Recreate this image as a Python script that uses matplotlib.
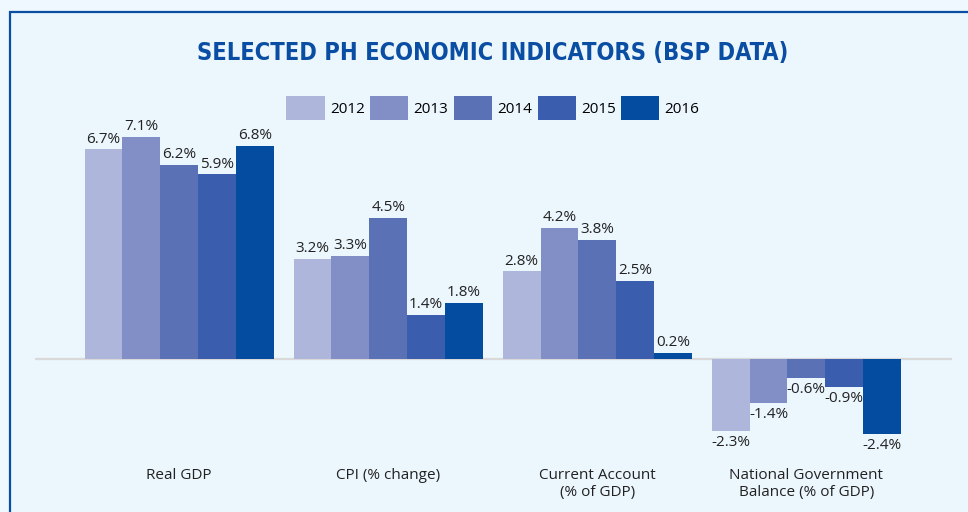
import numpy as np
import matplotlib.pyplot as plt
from matplotlib import font_manager
from matplotlib.patches import Rectangle, Patch

categories = ["Real GDP", "CPI (% change)", "Current Account\n(% of GDP)",
              "National Government\nBalance (% of GDP)"]
years = ["2012", "2013", "2014", "2015", "2016"]
values = {
    "2012": [6.7, 3.2, 2.8, -2.3],
    "2013": [7.1, 3.3, 4.2, -1.4],
    "2014": [6.2, 4.5, 3.8, -0.6],
    "2015": [5.9, 1.4, 2.5, -0.9],
    "2016": [6.8, 1.8, 0.2, -2.4],
}
colors = ["#aeb6dc", "#828fc6", "#5a72b5", "#3a5ead", "#044ca0"]

W, H = 968, 512
fig = plt.figure(figsize=(W / 100, H / 100), dpi=100)
fig.patch.set_facecolor("#f0f8ff")

# inner panel with blue border (runs off right/bottom edges)
fig.patches.append(Rectangle((10 / W, -0.1), 1.2, 1.1 - 12 / H, transform=fig.transFigure,
                             facecolor="#ebf6fd", edgecolor="#0a4ea3", lw=1.6, zorder=-5))

ax = fig.add_axes([35 / W, 1 - 450 / H, (952 - 35) / W, 325 / H])
ax.set_facecolor("none")
ax.set_zorder(2)

x = np.arange(len(categories))
bw = 0.181
for i, yr in enumerate(years):
    xs = x + (i - 2) * bw
    ax.bar(xs, values[yr], width=bw, color=colors[i], label=yr, zorder=2)
    for xx, v in zip(xs, values[yr]):
        if v >= 0:
            ax.annotate(f"{v:.1f}%", (xx, v), xytext=(0, 2), textcoords="offset points",
                        ha="center", va="bottom", fontsize=11, color="#222222",
                        family="Open Sans")
        else:
            ax.annotate(f"{v:.1f}%", (xx, v), xytext=(0, -3), textcoords="offset points",
                        ha="center", va="top", fontsize=11, color="#222222",
                        family="Open Sans")

ax.axhline(0, color="#d9d9d9", lw=1.6, zorder=1)
ax.set_xlim(-0.69, 3.0 + (952 - 806.5) / 208.7)
ax.set_ylim(-91 / 31.3, 234 / 31.3)
ax.set_xticks(x)
ax.set_xticklabels(categories, fontsize=11, color="#222222", family="Open Sans",
                   linespacing=1.2)
ax.tick_params(axis="x", length=0, pad=13)
ax.set_yticks([])
for s in ax.spines.values():
    s.set_visible(False)

# title in a narrow font if one is installed, sized to the reference width
names = {f.name for f in font_manager.fontManager.ttflist}
tfam, tstretch = "DejaVu Sans", "condensed"
for cand in ["Liberation Sans Narrow", "DejaVu Sans Condensed"]:
    if cand in names:
        tfam = cand
        break
title = fig.text(493 / W, 1 - 53 / H, "SELECTED PH ECONOMIC INDICATORS (BSP DATA)",
                 ha="center", va="center", fontsize=26, fontweight="bold",
                 family=tfam, stretch=tstretch, color="#0a4ea3")
r = fig.canvas.get_renderer()
tw = title.get_window_extent(r).width
title.set_fontsize(min(26, 26 * 592 / tw))

handles = [Patch(facecolor=c, label=y) for c, y in zip(colors, years)]
fig.legend(handles=handles, loc="center", bbox_to_anchor=(493 / W, 1 - 108 / H),
           ncol=5, frameon=False, handlelength=2.5, handleheight=2.0,
           handletextpad=0.35, columnspacing=0.35, borderpad=0,
           prop={"family": "Open Sans", "size": 11})

fig.savefig("out.png", dpi=100, facecolor=fig.get_facecolor())
